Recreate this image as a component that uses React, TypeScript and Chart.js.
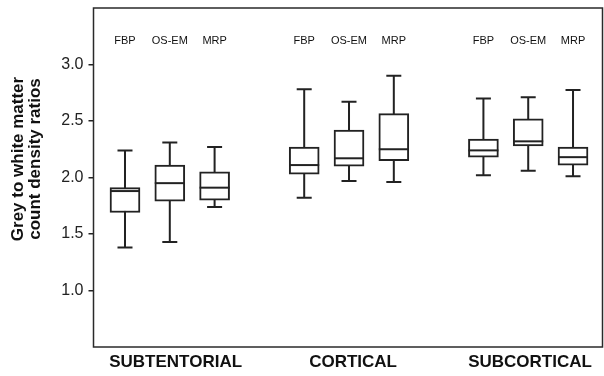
import React, { useEffect, useRef } from 'react';
import { Chart, registerables } from 'chart.js';

Chart.register(...registerables);

// ---- data ----
const groups = ['SUBTENTORIAL', 'CORTICAL', 'SUBCORTICAL'];
const methods = ['FBP', 'OS-EM', 'MRP'];
// order: group-major (SUBTENTORIAL FBP, OS-EM, MRP, CORTICAL ..., SUBCORTICAL ...)
const whiskerLow = [1.38, 1.43, 1.74, 1.82, 1.97, 1.96, 2.02, 2.06, 2.01];
const q1 = [1.69, 1.79, 1.80, 2.03, 2.10, 2.15, 2.18, 2.28, 2.11];
const median = [1.88, 1.95, 1.91, 2.11, 2.17, 2.25, 2.24, 2.32, 2.18];
const q3 = [1.91, 2.11, 2.05, 2.27, 2.42, 2.565, 2.34, 2.52, 2.27];
const whiskerHigh = [2.24, 2.31, 2.27, 2.78, 2.67, 2.90, 2.70, 2.71, 2.775];
const yTicks = [1.0, 1.5, 2.0, 2.5, 3.0];
const yTitle = ['Grey to white matter', 'count density ratios'];

const FONT = "'Liberation Sans', Arial, Helvetica, sans-serif";
const INK = '#222222';

// slot index of each box: 3 boxes per group, one empty slot between groups
const slots = q1.map((_, i) => Math.floor(i / methods.length) * (methods.length + 1) + (i % methods.length));
const groupCenters = groups.map((_, g) => g * (methods.length + 1) + 1);

const boxExtras = {
  id: 'boxExtras',
  beforeDatasetsDraw(chart: any) {
    const { ctx } = chart;
    const xs = chart.scales.x;
    const ys = chart.scales.y;
    ctx.save();
    ctx.strokeStyle = INK;
    ctx.lineWidth = 2;
    slots.forEach((s, i) => {
      const x = xs.getPixelForValue(s);
      const yl = ys.getPixelForValue(whiskerLow[i]);
      const yh = ys.getPixelForValue(whiskerHigh[i]);
      ctx.beginPath();
      ctx.moveTo(x, yl);
      ctx.lineTo(x, yh);
      ctx.moveTo(x - 7.5, yl);
      ctx.lineTo(x + 7.5, yl);
      ctx.moveTo(x - 7.5, yh);
      ctx.lineTo(x + 7.5, yh);
      ctx.stroke();
    });
    ctx.restore();
  },
  afterDatasetsDraw(chart: any) {
    const { ctx, chartArea } = chart;
    const xs = chart.scales.x;
    const ys = chart.scales.y;
    ctx.save();
    // medians
    ctx.strokeStyle = INK;
    ctx.lineWidth = 2;
    slots.forEach((s, i) => {
      const x = xs.getPixelForValue(s);
      const y = ys.getPixelForValue(median[i]);
      ctx.beginPath();
      ctx.moveTo(x - 15, y);
      ctx.lineTo(x + 15, y);
      ctx.stroke();
    });
    // frame
    ctx.lineWidth = 1.5;
    ctx.strokeStyle = '#2a2a2a';
    ctx.strokeRect(chartArea.left, chartArea.top, chartArea.right - chartArea.left, chartArea.bottom - chartArea.top);
    // method labels above boxes
    ctx.fillStyle = '#111';
    ctx.font = `11px ${FONT}`;
    ctx.textAlign = 'center';
    ctx.textBaseline = 'middle';
    const ly = ys.getPixelForValue(3.21);
    slots.forEach((s, i) => {
      ctx.fillText(methods[i % methods.length], xs.getPixelForValue(s), ly);
    });
    // y title
    ctx.font = `bold 17px ${FONT}`;
    ctx.translate(0, 159);
    ctx.rotate(-Math.PI / 2);
    ctx.fillText(yTitle[0], 0, 18);
    ctx.fillText(yTitle[1], 0, 35);
    ctx.restore();
  },
};

export default function App() {
  const ref = useRef<HTMLCanvasElement>(null);
  useEffect(() => {
    document.body.style.margin = '0';
    const chart = new Chart(ref.current as HTMLCanvasElement, {
      type: 'bar',
      data: {
        datasets: [
          {
            data: slots.map((x, i) => ({ x, y: [q1[i], q3[i]] })) as any,
            backgroundColor: '#ffffff',
            borderColor: INK,
            borderWidth: 2,
            borderSkipped: false,
            barThickness: 30,
          },
        ],
      },
      options: {
        responsive: true,
        maintainAspectRatio: false,
        animation: false,
        layout: { padding: { top: 8, right: 1.5, left: 0, bottom: 0 } },
        plugins: { legend: { display: false }, tooltip: { enabled: false } },
        scales: {
          x: {
            type: 'linear',
            min: -0.703,
            max: 10.658,
            offset: false,
            grid: { display: false, drawTicks: false, offset: false },
            border: { display: false },
            afterBuildTicks: (s: any) => {
              s.ticks = groupCenters.map((v, g) => ({ value: v + [0.13, 0.09, 0.04][g] }));
            },
            ticks: {
              callback: (_v: any, i: number) => groups[i],
              font: { family: FONT, size: 17, weight: 'bold' },
              color: '#111',
              padding: 5,
              maxRotation: 0,
              autoSkip: false,
            },
            afterFit: (s: any) => {
              s.height = 29;
              s.paddingLeft = 0;
              s.paddingRight = 0;
            },
          } as any,
          y: {
            type: 'linear',
            min: 0.5,
            max: 3.5,
            afterBuildTicks: (s: any) => {
              s.ticks = yTicks.map((v) => ({ value: v }));
            },
            ticks: {
              callback: (v: any) => Number(v).toFixed(1),
              font: { family: FONT, size: 16 },
              color: '#222',
              padding: 5,
            },
            grid: { drawOnChartArea: false, drawTicks: true, tickLength: 5, color: INK, lineWidth: 1.5 },
            border: { display: false },
            afterFit: (s: any) => {
              s.width = 93.5;
              s.paddingTop = 0;
              s.paddingBottom = 0;
            },
          } as any,
        },
      },
      plugins: [boxExtras],
    });
    return () => chart.destroy();
  }, []);
  return (
    <div style={{ width: 604, height: 376 }}>
      <canvas ref={ref} />
    </div>
  );
}
